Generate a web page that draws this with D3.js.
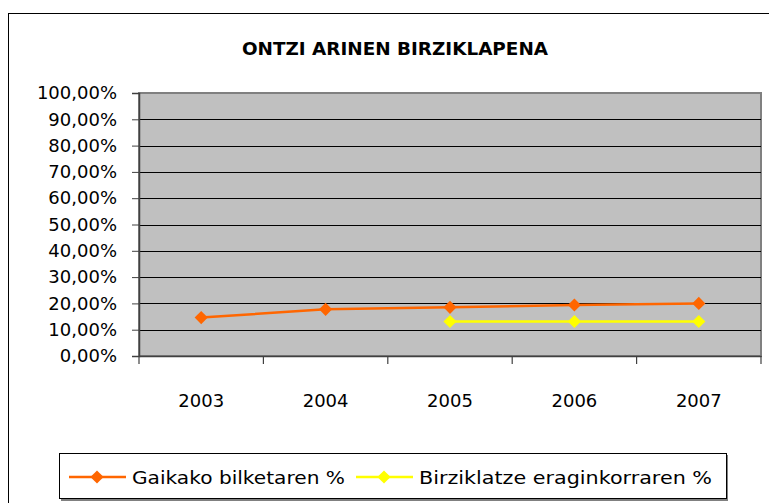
<!DOCTYPE html>
<html>
<head>
<meta charset="utf-8">
<script src="https://cdn.jsdelivr.net/npm/d3@7"></script>
<style>
  body { margin: 0; background: #fff; }
  text { font-family: "DejaVu Sans", sans-serif; fill: #000; }
</style>
</head>
<body>
<script>
var years = ["2003", "2004", "2005", "2006", "2007"];
var gaikako = [14.6, 17.75, 18.5, 19.4, 20.0];
var birziklatze = [null, null, 13.1, 13.1, 13.1];
var yTicks = [0, 10, 20, 30, 40, 50, 60, 70, 80, 90, 100];
var seriesNames = ["Gaikako bilketaren %", "Birziklatze eraginkorraren %"];
var seriesColors = ["#FF6600", "#FFFF00"];

var w = 769;
var h = 503;
var plotLeft = 139, plotRight = 761, plotTop = 93, plotBottom = 356;

var svg = d3.select("body")
			.append("svg")
			.attr("width", w)
			.attr("height", h);

// outer chart border
svg.append("rect")
	.attr("x", 8.5)
	.attr("y", 13.5)
	.attr("width", 800)
	.attr("height", 520)
	.attr("fill", "#fff")
	.attr("stroke", "#000");

svg.append("text")
	.text("ONTZI ARINEN BIRZIKLAPENA")
	.attr("x", 395)
	.attr("y", 55)
	.attr("text-anchor", "middle")
	.attr("font-size", "17px")
	.attr("font-weight", "bold")
	.attr("textLength", 306)
	.attr("lengthAdjust", "spacingAndGlyphs");

var x = d3.scaleBand()
	.domain(years)
	.range([plotLeft, plotRight]);

var y = d3.scaleLinear()
	.domain([0, 100])
	.range([plotBottom, plotTop]);

// plot area
svg.append("rect")
	.attr("x", plotLeft)
	.attr("y", plotTop)
	.attr("width", plotRight - plotLeft)
	.attr("height", plotBottom - plotTop)
	.attr("fill", "#C0C0C0")
	.attr("stroke", "#808080")
	.attr("stroke-width", 2);

// gridlines
svg.selectAll("line.grid")
	.data(yTicks.filter(function(d) { return d > 0 && d < 100; }))
	.enter()
	.append("line")
	.attr("class", "grid")
	.attr("x1", plotLeft)
	.attr("x2", plotRight)
	.attr("y1", function(d) { return Math.round(y(d)) + 0.5; })
	.attr("y2", function(d) { return Math.round(y(d)) + 0.5; })
	.attr("stroke", "#000");

// y axis
var yAxis = d3.axisLeft(y)
	.tickValues(yTicks)
	.tickSize(7)
	.tickPadding(15)
	.tickFormat(function(d) { return d3.format(".2f")(d).replace(".", ",") + "%"; });

var gy = svg.append("g")
	.attr("transform", "translate(" + plotLeft + ",0)")
	.call(yAxis);
gy.select(".domain").attr("stroke", "#404040").attr("stroke-width", 1.5);
gy.selectAll(".tick line").attr("stroke", "#404040");
gy.selectAll(".tick text")
	.attr("font-size", "18px")
	.attr("font-family", "DejaVu Sans, sans-serif")
	.attr("fill", "#000");

// x axis with ticks between categories
var xAxis = d3.axisBottom(x).tickSize(0).tickPadding(38);
var gx = svg.append("g")
	.attr("transform", "translate(0," + plotBottom + ")")
	.call(xAxis);
gx.select(".domain").attr("stroke", "#404040").attr("stroke-width", 1.5);
gx.selectAll(".tick text")
	.attr("font-size", "18px")
	.attr("font-family", "DejaVu Sans, sans-serif")
	.attr("fill", "#000");

svg.selectAll("line.xtick")
	.data(years.concat(["end"]))
	.enter()
	.append("line")
	.attr("class", "xtick")
	.attr("x1", function(d, i) { return plotLeft + i * x.bandwidth(); })
	.attr("x2", function(d, i) { return plotLeft + i * x.bandwidth(); })
	.attr("y1", plotBottom)
	.attr("y2", plotBottom + 8)
	.attr("stroke", "#404040")
	.attr("stroke-width", 1.2);

function cx(d, i) { return x(years[i]) + x.bandwidth() / 2; }
var diamond = d3.symbol().type(d3.symbolDiamond2).size(110);

var series = [gaikako, birziklatze];
series.forEach(function(vals, s) {
	var line = d3.line()
		.defined(function(d) { return d !== null; })
		.x(cx)
		.y(function(d) { return y(d); });
	svg.append("path")
		.datum(vals)
		.attr("d", line)
		.attr("fill", "none")
		.attr("stroke", seriesColors[s])
		.attr("stroke-width", 2.5);
	var pts = vals.map(function(d, i) { return { v: d, i: i }; })
		.filter(function(p) { return p.v !== null; });
	svg.selectAll("path.m" + s)
		.data(pts)
		.enter()
		.append("path")
		.attr("class", "m" + s)
		.attr("d", diamond)
		.attr("transform", function(p) {
			return "translate(" + cx(p.v, p.i) + "," + y(p.v) + ")";
		})
		.attr("fill", seriesColors[s]);
});

// legend
svg.append("rect")
	.attr("x", 61)
	.attr("y", 455)
	.attr("width", 667)
	.attr("height", 46)
	.attr("fill", "#808080");
svg.append("rect")
	.attr("x", 59.5)
	.attr("y", 453.5)
	.attr("width", 667)
	.attr("height", 45)
	.attr("fill", "#fff")
	.attr("stroke", "#000");

var legendX = [69, 356];
var textLen = [213, 293];
seriesNames.forEach(function(name, s) {
	var lx = legendX[s];
	svg.append("line")
		.attr("x1", lx)
		.attr("x2", lx + 57)
		.attr("y1", 477)
		.attr("y2", 477)
		.attr("stroke", seriesColors[s])
		.attr("stroke-width", 2.5);
	svg.append("path")
		.attr("d", diamond)
		.attr("transform", "translate(" + (lx + 28) + ",477)")
		.attr("fill", seriesColors[s]);
	svg.append("text")
		.text(name)
		.attr("x", lx + 63)
		.attr("y", 484)
		.attr("font-size", "18px")
		.attr("textLength", textLen[s])
		.attr("lengthAdjust", "spacingAndGlyphs");
});
</script>
</body>
</html>
